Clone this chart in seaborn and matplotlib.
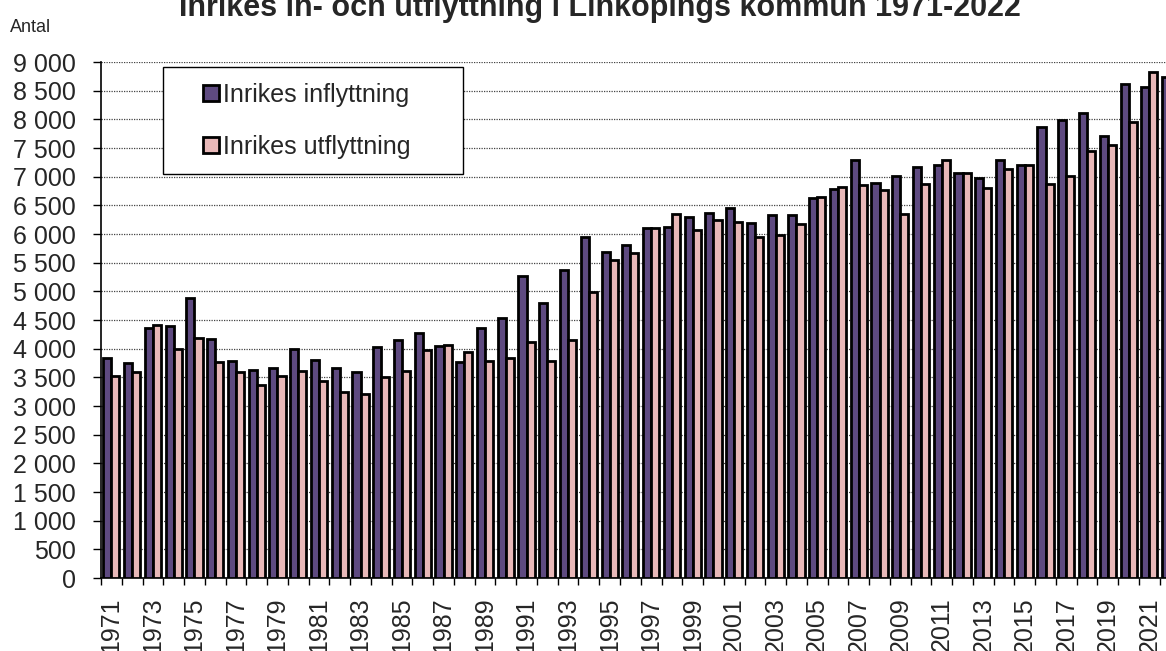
#!/usr/bin/env python3

import numpy as np
import pandas as pd
import matplotlib
matplotlib.use("Agg")
import matplotlib.pyplot as plt
import seaborn as sns
from matplotlib.patches import Patch, Rectangle
from matplotlib.legend_handler import HandlerPatch
from matplotlib.ticker import FixedLocator, FuncFormatter


years = list(range(1971, 2023))

inflyttning = [
    3830, 3750, 4360, 4400, 4885, 4175, 3785, 3630, 3665, 3995,
    3805, 3665, 3595, 4025, 4145, 4265, 4045, 3775, 4365, 4540,
    5260, 4805, 5370, 5950, 5690, 5810, 6100, 6130, 6300, 6372,
    6448, 6185, 6335, 6335, 6630, 6780, 7298, 6896, 7010, 7168,
    7208, 7064, 6983, 7289, 7197, 7861, 7988, 8110, 7717, 8613,
    8566, 8740,
]

utflyttning = [
    3520, 3595, 4405, 3995, 4180, 3768, 3590, 3369, 3519, 3612,
    3444, 3247, 3210, 3510, 3612, 3971, 4058, 3936, 3786, 3832,
    4110, 3786, 4156, 4995, 5541, 5660, 6100, 6344, 6072, 6240,
    6208, 5942, 5977, 6168, 6653, 6826, 6855, 6763, 6353, 6867,
    7295, 7064, 6798, 7133, 7202, 6867, 7006, 7445, 7555, 7948,
    8832, np.nan,  # 2022 utflyttning falls outside the cropped picture
]

series_names = ["Inrikes inflyttning", "Inrikes utflyttning"]
colors = ["#5E4A80", "#E8B8B8"]

title = "Inrikes in- och utflyttning i Linköpings kommun 1971-2022"

data = pd.DataFrame({
    "Year": [str(y) for y in years] * 2,
    "Antal": inflyttning + utflyttning,
    "Serie": [series_names[0]] * len(years) + [series_names[1]] * len(years),
})

sns.set_theme(style="ticks")
plt.rcParams["font.family"] = ["Liberation Sans", "DejaVu Sans"]

W, H = 1166, 651
fig = plt.figure(figsize=(W / 100, H / 100), dpi=100)
ax_left, ax_top, ax_bottom = 101, 62, 578
ax = fig.add_axes([ax_left / W, (H - ax_bottom) / H, (W - ax_left) / W, (ax_bottom - ax_top) / H])

sns.barplot(
    data=data, x="Year", y="Antal", hue="Serie", palette=colors,
    saturation=1, width=0.78, edgecolor="black", linewidth=2.0,
    ax=ax, legend=False, zorder=3,
)

ax.set_ylim(0, 9000)
ax.set_xlim(-0.5, 50.8)
ax.set_yticks(np.arange(0, 9001, 500))
ax.yaxis.set_major_formatter(FuncFormatter(lambda v, p: f"{int(v):,}".replace(",", " ")))
ax.tick_params(axis="y", labelsize=18, length=6, width=1, color="black", pad=12)

label_idx = list(range(0, len(years), 2))
ax.xaxis.set_major_locator(FixedLocator(label_idx))
ax.set_xticklabels([str(years[i]) for i in label_idx], rotation=90, fontsize=18)
ax.xaxis.set_minor_locator(FixedLocator(np.arange(-0.5, len(years), 1.0)))
ax.tick_params(axis="x", which="major", length=0, pad=14)
ax.tick_params(axis="x", which="minor", length=5, width=1, color="black")

ax.set_xlabel("")
ax.set_ylabel("")
ax.yaxis.grid(True, linestyle=(0, (1, 1)), color="#444444", linewidth=0.9, zorder=0)
ax.set_axisbelow(True)

for side in ["top", "right"]:
    ax.spines[side].set_visible(False)
for side in ["left", "bottom"]:
    ax.spines[side].set_color("black")
    ax.spines[side].set_linewidth(1.2)


def square_handle(legend, orig_handle, xdescent, ydescent, width, height, fontsize):
    s = 0.64 * fontsize
    return Rectangle((width - s - xdescent, -ydescent + (height - s) / 2), s, s)


handles = [Patch(facecolor=c, edgecolor="black", linewidth=2.0) for c in colors]
leg = ax.legend(
    handles, series_names, loc="upper left", mode="expand",
    bbox_to_anchor=(62 / 1065, 0.787, 300 / 1065, 0.203),
    borderaxespad=0, borderpad=0.62, labelspacing=1.12,
    handlelength=1.62, handleheight=0.7, handletextpad=0.16,
    fontsize=18, frameon=True, fancybox=False, framealpha=1,
    handler_map={Patch: HandlerPatch(patch_func=square_handle)},
)
leg.get_frame().set_edgecolor("black")
leg.get_frame().set_linewidth(1.0)

fig.text(599.5 / W, (H - 16) / H, title, ha="center", va="baseline",
         fontsize=22, fontweight="bold")
fig.text(10 / W, (H - 32) / H, "Antal", ha="left", va="baseline", fontsize=13)

fig.savefig("out.png", dpi=100)
plt.close(fig)
